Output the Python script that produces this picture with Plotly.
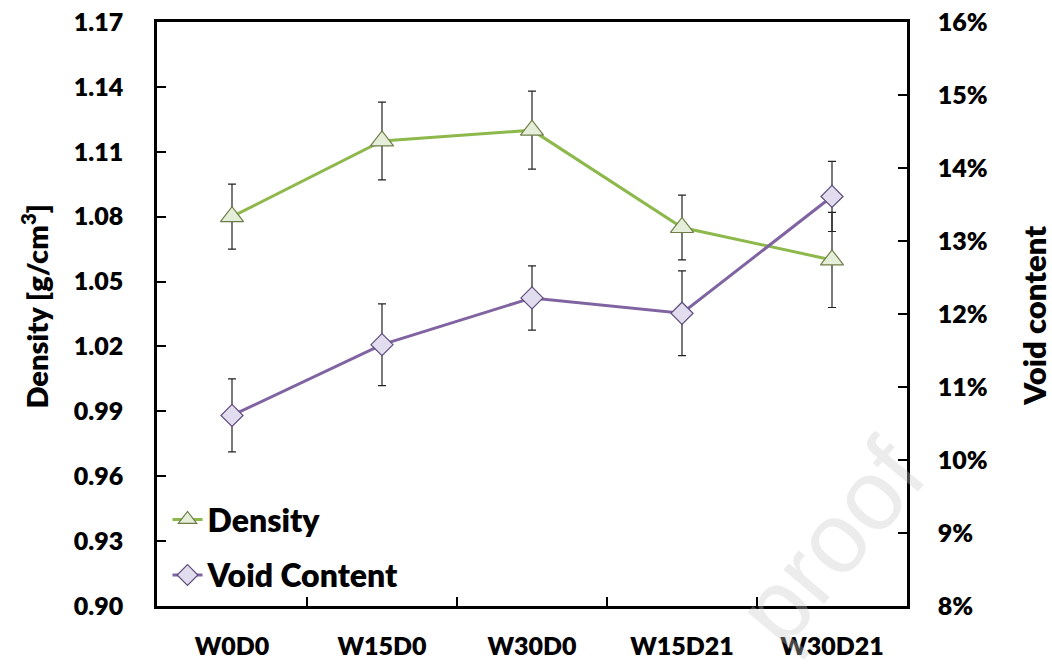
import plotly.graph_objects as go

# Mix designs on the category axis
mixes = ["W0D0", "W15D0", "W30D0", "W15D21", "W30D21"]

# Bulk density [g/cm3] with standard deviations
density = [1.080, 1.115, 1.120, 1.075, 1.060]
density_err = [0.015, 0.018, 0.018, 0.015, 0.022]

# Void content (fraction) with standard deviations
void = [0.1061, 0.1158, 0.1222, 0.1201, 0.1361]
void_err = [0.0050, 0.0056, 0.0044, 0.0058, 0.0048]

# Axis tick values
density_ticks = [0.90, 0.93, 0.96, 0.99, 1.02, 1.05, 1.08, 1.11, 1.14, 1.17]
void_ticks = [0.08, 0.09, 0.10, 0.11, 0.12, 0.13, 0.14, 0.15, 0.16]

FONT = "Lato"
WEIGHT = 800
AXIS_COLOR = "#000000"

fig = go.Figure()

fig.add_trace(go.Scatter(
    x=mixes, y=density, name="Density", mode="lines+markers",
    legendgroup="d",
    line=dict(color="#8DB84B", width=3),
    marker=dict(symbol="triangle-up", size=20, color="#E5EED8",
                line=dict(color="#6E7D48", width=1.2)),
    error_y=dict(type="data", array=density_err, color="#222222",
                 thickness=1.2, width=4),
    yaxis="y",
))

fig.add_trace(go.Scatter(
    x=mixes, y=void, name="Void Content", mode="lines+markers",
    legendgroup="v",
    line=dict(color="#8064A2", width=3),
    marker=dict(symbol="diamond", size=17, color="#E2DDEE",
                line=dict(color="#5F4E7C", width=1.2)),
    error_y=dict(type="data", array=void_err, color="#222222",
                 thickness=1.2, width=4),
    yaxis="y2",
))

tick_font = dict(family=FONT, size=25, color="#000000", weight=WEIGHT)
title_font = dict(family=FONT, size=29, color="#000000", weight=WEIGHT)

fig.update_layout(
    width=1052, height=664,
    margin=dict(l=157, r=145, t=22, b=58),
    paper_bgcolor="white", plot_bgcolor="white",
    font=dict(family=FONT, color="#000000"),
    showlegend=True,
    legend=dict(
        x=0.014, y=0.005, xanchor="left", yanchor="bottom",
        traceorder="grouped", tracegroupgap=11,
        bgcolor="rgba(0,0,0,0)",
        font=dict(family=FONT, size=32, color="#000000", weight=WEIGHT),
        itemsizing="trace",
    ),
    xaxis=dict(
        type="category", range=[-0.5, 4.5],
        tickson="boundaries", ticks="inside", ticklen=9, tickwidth=2,
        tickcolor=AXIS_COLOR,
        showline=True, linecolor=AXIS_COLOR, linewidth=2.5, mirror=True,
        showgrid=False, zeroline=False,
        tickfont=tick_font, ticklabelstandoff=16,
        automargin=False,
    ),
    yaxis=dict(
        range=[0.90, 1.17], tickvals=density_ticks, tickformat=".2f",
        ticks="inside", ticklen=9, tickwidth=2, tickcolor=AXIS_COLOR,
        showline=True, linecolor=AXIS_COLOR, linewidth=2.5,
        showgrid=False, zeroline=False,
        tickfont=tick_font, ticklabelstandoff=26,
        automargin=False,
    ),
    yaxis2=dict(
        range=[0.08, 0.16], tickvals=void_ticks, tickformat=".0%",
        overlaying="y", side="right",
        ticks="inside", ticklen=9, tickwidth=2, tickcolor=AXIS_COLOR,
        showline=True, linecolor=AXIS_COLOR, linewidth=2.5,
        showgrid=False, zeroline=False,
        tickfont=tick_font, ticklabelstandoff=23,
        automargin=False,
    ),
)

# Axis titles
fig.add_annotation(
    text="Density [g/cm<sup>3</sup>]", xref="paper", yref="paper",
    x=-0.163, y=0.514, xanchor="center", yanchor="middle",
    showarrow=False, textangle=-90, font=title_font,
)
fig.add_annotation(
    text="Void content", xref="paper", yref="paper",
    x=1.1693, y=0.497, xanchor="center", yanchor="middle",
    showarrow=False, textangle=-90, font=dict(title_font, size=31),
)

# Faint diagonal watermark
fig.add_annotation(
    text="proof", xref="paper", yref="paper", x=0.897, y=0.11,
    xanchor="center", yanchor="middle",
    showarrow=False, textangle=-50,
    font=dict(family="Liberation Sans", size=100, color="rgba(200,200,200,0.35)"),
)

fig.write_html("out.html")
